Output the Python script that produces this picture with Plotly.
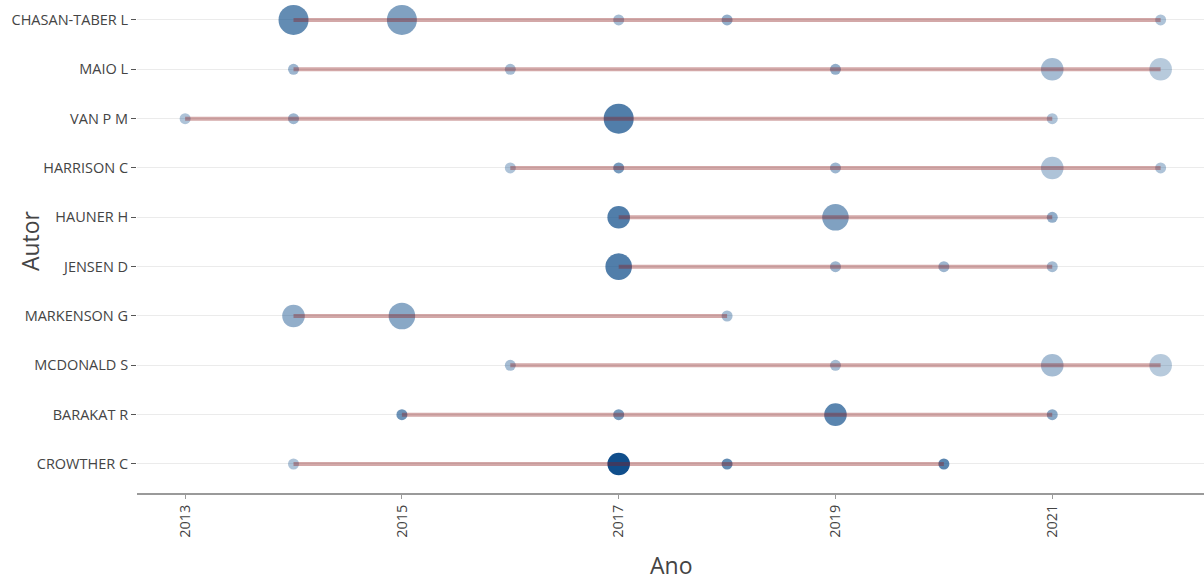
import plotly.graph_objects as go

# ---- data ----
authors = ["CHASAN-TABER L", "MAIO L", "VAN P M", "HARRISON C", "HAUNER H",
           "JENSEN D", "MARKENSON G", "MCDONALD S", "BARAKAT R", "CROWTHER C"]

years = {
    "CHASAN-TABER L": [2014, 2015, 2017, 2018, 2022],
    "MAIO L":         [2014, 2016, 2019, 2021, 2022],
    "VAN P M":        [2013, 2014, 2017, 2021],
    "HARRISON C":     [2016, 2017, 2019, 2021, 2022],
    "HAUNER H":       [2017, 2019, 2021],
    "JENSEN D":       [2017, 2019, 2020, 2021],
    "MARKENSON G":    [2014, 2015, 2018],
    "MCDONALD S":     [2016, 2019, 2021, 2022],
    "BARAKAT R":      [2015, 2017, 2019, 2021],
    "CROWTHER C":     [2014, 2017, 2018, 2020],
}
n_articles = {
    "CHASAN-TABER L": [5, 5, 1, 1, 1],
    "MAIO L":         [1, 1, 1, 3, 3],
    "VAN P M":        [1, 1, 5, 1],
    "HARRISON C":     [1, 1, 1, 3, 1],
    "HAUNER H":       [3, 4, 1],
    "JENSEN D":       [4, 1, 1, 1],
    "MARKENSON G":    [3, 4, 1],
    "MCDONALD S":     [1, 1, 3, 3],
    "BARAKAT R":      [1, 1, 3, 1],
    "CROWTHER C":     [1, 3, 1, 1],
}
tc_per_year = {
    "CHASAN-TABER L": [5.5, 4.0, 2.0, 3.0, 1.5],
    "MAIO L":         [2.5, 2.0, 3.0, 2.0, 1.0],
    "VAN P M":        [1.5, 2.5, 6.5, 1.5],
    "HARRISON C":     [1.5, 4.5, 2.5, 1.5, 1.5],
    "HAUNER H":       [6.5, 4.0, 3.0],
    "JENSEN D":       [6.5, 2.5, 2.5, 2.0],
    "MARKENSON G":    [3.0, 3.5, 2.0],
    "MCDONALD S":     [2.0, 2.0, 2.0, 1.0],
    "BARAKAT R":      [5.0, 4.5, 6.0, 3.5],
    "CROWTHER C":     [1.5, 10.0, 5.5, 6.0],
}
x_ticks = [2013, 2015, 2017, 2019, 2021]

# ---- scales (like ggplot scale_size / scale_alpha) ----
all_n = [v for a in authors for v in n_articles[a]]
all_tc = [v for a in authors for v in tc_per_year[a]]
nmin, nmax = min(all_n), max(all_n)
tmin, tmax = min(all_tc), max(all_tc)
dmin, dmax = 11.0, 30.0

def size_of(n):
    f = (n - nmin) / (nmax - nmin)
    return (dmin ** 2 + f * (dmax ** 2 - dmin ** 2)) ** 0.5

def alpha_of(t):
    return 0.3 + 0.7 * (t - tmin) / (tmax - tmin)

px, py, ps, po, ptxt = [], [], [], [], []
for a in authors:
    for yr, n, t in zip(years[a], n_articles[a], tc_per_year[a]):
        px.append(yr)
        py.append(a)
        ps.append(size_of(n))
        po.append(alpha_of(t))
        ptxt.append(f"Author: {a}<br>Year: {yr}<br>N. of Articles: {n}<br>Total Citations per Year: {t}")

fig = go.Figure()
fig.add_trace(go.Scatter(
    x=px, y=py, mode="markers",
    marker=dict(color="rgb(16,78,139)", size=ps, opacity=po, line=dict(width=0)),
    text=ptxt, hoverinfo="text", showlegend=False,
))
for a in authors:
    ys = years[a]
    fig.add_trace(go.Scatter(
        x=[min(ys), max(ys)], y=[a, a], mode="lines",
        line=dict(color="rgba(139,26,26,0.38)", width=4),
        hoverinfo="skip", showlegend=False,
    ))

font_family = "Open Sans"
fig.update_layout(
    width=1204, height=580,
    margin=dict(l=137, r=0, t=0, b=87),
    paper_bgcolor="white", plot_bgcolor="white",
    font=dict(family=font_family, color="#444444", size=12),
    xaxis=dict(
        range=[2012.556, 2022.40], tickvals=x_ticks, ticktext=[str(v) for v in x_ticks],
        tickangle=-90, showgrid=False, zeroline=False,
        showline=True, linecolor="#9a9a9a", linewidth=1.6,
        ticks="outside", ticklen=4, tickcolor="#9a9a9a", tickwidth=1.3,
        tickfont=dict(size=14.5, color="#444444"),
    ),
    yaxis=dict(
        type="category", categoryorder="array", categoryarray=authors[::-1],
        range=[-0.588, 9.405], showgrid=True, gridcolor="#ebebeb", gridwidth=1,
        zeroline=False, showline=False,
        ticks="outside", ticklen=5, tickcolor="#555555", tickwidth=1.3,
        tickfont=dict(size=14.5, color="#444444"),
    ),
    annotations=[
        dict(text="Autor", xref="paper", yref="paper", x=-0.1003, y=0.513,
             textangle=-90, showarrow=False, xanchor="center", yanchor="middle",
             font=dict(size=23, color="#444444", family=font_family)),
        dict(text="Ano", xref="paper", yref="paper", x=0.501, y=-0.146,
             showarrow=False, xanchor="center", yanchor="middle",
             font=dict(size=23, color="#444444", family=font_family)),
    ],
)

fig.write_html("out.html", config={"displayModeBar": False},
               post_script="document.body.style.margin='0';document.body.style.padding='0';")
